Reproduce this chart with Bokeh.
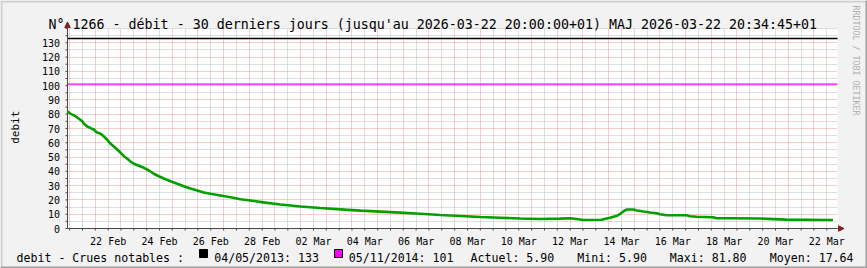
import math
import pandas as pd
from bokeh.plotting import figure
from bokeh.models import (Range1d, FixedTicker, Grid, Label, Arrow, NormalHead,
                          BoxAnnotation)
from bokeh.core.properties import value
from bokeh.embed import file_html
from bokeh.resources import INLINE

# ---------------- data ----------------
times = [
    "2026-02-20 22:00", "2026-02-21 01:00", "2026-02-21 05:30", "2026-02-21 08:40",
    "2026-02-21 11:50", "2026-02-21 13:20", "2026-02-21 16:30", "2026-02-21 19:40",
    "2026-02-21 22:40", "2026-02-22 01:10", "2026-02-22 05:00", "2026-02-22 08:00",
    "2026-02-22 11:10", "2026-02-22 14:20", "2026-02-22 17:20", "2026-02-22 20:30",
    "2026-02-22 23:40", "2026-02-23 02:45", "2026-02-23 05:55", "2026-02-23 09:00",
    "2026-02-23 12:00", "2026-02-23 16:45", "2026-02-23 21:25", "2026-02-24 02:05",
    "2026-02-24 06:45", "2026-02-24 11:25", "2026-02-24 16:05", "2026-02-24 22:20",
    "2026-02-25 04:35", "2026-02-25 10:45", "2026-02-25 17:00", "2026-02-25 23:20",
    "2026-02-26 05:30", "2026-02-26 11:45", "2026-02-26 21:05", "2026-02-27 06:25",
    "2026-02-27 15:45", "2026-02-28 01:05", "2026-02-28 13:10", "2026-03-01 05:00",
    "2026-03-01 23:45", "2026-03-02 18:30", "2026-03-03 13:10", "2026-03-04 08:00",
    "2026-03-05 02:40", "2026-03-05 21:10", "2026-03-06 15:50", "2026-03-07 10:35",
    "2026-03-08 05:20", "2026-03-09 00:00", "2026-03-09 18:40", "2026-03-10 13:25",
    "2026-03-11 08:00", "2026-03-12 02:40", "2026-03-12 12:00", "2026-03-12 21:20",
    "2026-03-13 00:30", "2026-03-13 17:45", "2026-03-13 19:10", "2026-03-14 01:25",
    "2026-03-14 07:40", "2026-03-14 10:50", "2026-03-14 13:55", "2026-03-14 17:05",
    "2026-03-14 23:15", "2026-03-15 02:25", "2026-03-15 08:35", "2026-03-15 14:50",
    "2026-03-15 21:00", "2026-03-16 00:05", "2026-03-16 06:20", "2026-03-17 01:00",
    "2026-03-17 04:05", "2026-03-17 10:20", "2026-03-18 01:35", "2026-03-18 05:00",
    "2026-03-18 17:30", "2026-03-19 21:35", "2026-03-20 21:50", "2026-03-22 15:00",
    "2026-03-22 17:45",
]
debit = [
    81.8, 80.3, 78.6, 76.8,
    75.1, 73.3, 71.4, 70.2,
    69.3, 67.4, 66.3, 64.4,
    62.1, 59.3, 57.4, 55.3,
    53.0, 50.6, 48.8, 46.9,
    45.3, 43.9, 42.5, 40.6,
    38.3, 36.6, 35.0, 33.1,
    31.3, 29.6, 28.0, 26.6,
    25.2, 24.3, 23.1, 21.9,
    20.5, 19.6, 18.3, 16.8,
    15.4, 14.3, 13.4, 12.5,
    11.8, 11.1, 10.3, 9.4,
    8.7, 8.0, 7.5, 7.0,
    6.6, 6.9, 7.2, 6.3,
    5.9, 6.1, 6.5, 7.5,
    8.9, 10.3, 12.1, 13.3,
    13.3, 12.6, 11.9, 11.2,
    10.7, 10.0, 9.3, 9.3,
    8.6, 8.2, 7.9, 7.2,
    7.2, 7.0, 6.2, 5.9,
    5.9,
]
crue_dates = ["04/05/2013", "05/11/2014"]
crue_values = [133, 101]
crue_colors = ["#000000", "#ff00ff"]
actuel, mini, maxi, moyen = 5.90, 5.90, 81.80, 17.64

title_text = ("N\u00b0 1266 - d\u00e9bit - 30 derniers jours (jusqu'au 2026-03-22 20:00:00+01) "
              "MAJ 2026-03-22 20:34:45+01")
y_label = "debit"
y_ticks = list(range(0, 131, 10))
y_minor = list(range(5, 136, 10)) + [140]
window_start = "2026-02-20 22:00"
window_end = "2026-03-22 22:00"
y_max = 140

# ---------------- geometry helpers (canvas pixels -> data) ----------------
W, H = 867, 268
FL, FR, FT, FB = 67, 837, 28, 228      # plot area in canvas px


def ms(s):
    return pd.Timestamp(s).value // 10**6


x0, x1 = ms(window_start), ms(window_end)
mpp = (x1 - x0) / (FR - FL)            # ms per px
upp = y_max / (FB - FT)                # value units per px


def xd(X):
    return x0 + (X - FL) * mpp


def yd(Y):
    return (FB - Y) * upp


x_ms = [ms(t) for t in times]
label_dt = pd.date_range("2026-02-22 12:00", "2026-03-22 12:00", freq="2D")
label_ticks = [ms(t) for t in label_dt]
label_text = [t.strftime("%d %b") for t in label_dt]
midnights = [ms(t) for t in pd.date_range("2026-02-21 00:00", "2026-03-22 00:00", freq="D")]
noons = [ms(t) for t in pd.date_range("2026-02-21 12:00", "2026-03-22 12:00", freq="D")]

MONO = "DejaVu Sans Mono"

p = figure(width=W, height=H, output_backend="svg", toolbar_location=None,
           x_axis_type=None, y_axis_type=None,
           x_range=Range1d(xd(0), xd(W)), y_range=Range1d(yd(H), yd(0)),
           min_border=0, min_border_left=0, min_border_right=0,
           min_border_top=0, min_border_bottom=0, title=None)
p.background_fill_color = "#f2f2f2"
p.border_fill_color = "#f2f2f2"
p.outline_line_color = None

# white canvas of the plot area
p.add_layout(BoxAnnotation(left=x0, right=x1, bottom=0, top=y_max, fill_color="white",
                           fill_alpha=1, line_color=None, level="underlay"))

# grids (dotted), limited to the plot area
MIN_COL = "#bcbcbc"
MAJ_COL = "#ec9a9a"
has_cross = "cross_bounds" in Grid.properties()
for ticks, col, dim in ((noons, MIN_COL, 0), (y_minor, MIN_COL, 1),
                        (midnights, MAJ_COL, 0), (y_ticks[1:], MAJ_COL, 1)):
    if has_cross:
        cb = (0, y_max) if dim == 0 else (x0, x1)
        p.add_layout(Grid(dimension=dim, ticker=FixedTicker(ticks=ticks), cross_bounds=cb,
                          grid_line_color=col, grid_line_dash="1 1", grid_line_width=1,
                          level="underlay"))
    elif dim == 0:
        p.segment(x0=ticks, x1=ticks, y0=[0] * len(ticks), y1=[y_max] * len(ticks),
                  line_color=col, line_dash="1 1", line_width=1, level="underlay")
    else:
        p.segment(x0=[x0] * len(ticks), x1=[x1] * len(ticks), y0=ticks, y1=ticks,
                  line_color=col, line_dash="1 1", line_width=1, level="underlay")

# threshold lines (crues notables)
p.segment(x0=[x0, x0], x1=[x1, x1], y0=crue_values, y1=crue_values,
          line_color=crue_colors, line_width=[1.5, 1.2])

# data
p.line(x=x_ms, y=debit, line_color="#00a000", line_width=2.6)

# axes
AX = "#4a4a4a"
p.segment(x0=[x0, x0], y0=[0, 0], x1=[x1, x0], y1=[0, y_max], line_color=AX, line_width=1)
p.ray(x=[x0] * (len(y_ticks) + len(y_minor)), y=y_ticks + y_minor, length=2,
      length_units="screen", angle=math.pi, line_color=AX, line_width=1)
p.ray(x=midnights + noons, y=[0] * (len(midnights) + len(noons)), length=2,
      length_units="screen", angle=-math.pi / 2, line_color=AX, line_width=1)
p.text(x=[x0] * len(y_ticks), y=y_ticks, text=[str(v) for v in y_ticks], x_offset=-7.5,
       text_align="right", text_baseline="middle", text_font=value(MONO),
       text_font_size="10px", text_color="#000000")
p.text(x=label_ticks, y=[0] * len(label_ticks), text=label_text, y_offset=12.7,
       text_align="center", text_baseline="alphabetic", text_font=value(MONO),
       text_font_size="10px", text_color="#000000")

ARROW = "#801f1f"
p.add_layout(Arrow(x_start=x0, y_start=y_max, x_end=x0, y_end=yd(21.5),
                   line_color=AX, line_width=1,
                   end=NormalHead(size=5.5, fill_color=ARROW, line_color=ARROW)))
p.add_layout(Arrow(x_start=x1, y_start=0, x_end=xd(843.5), y_end=0,
                   line_color=AX, line_width=1,
                   end=NormalHead(size=5.5, fill_color=ARROW, line_color=ARROW)))


def lab(X, Y, text, **kw):
    p.add_layout(Label(x=X, y=H - Y, x_units="screen", y_units="screen", text=text,
                       text_font=MONO, **kw))


# texts
lab(432.3, 24, title_text, text_font_size="13.3px", text_align="center",
    text_baseline="alphabetic", text_color="#000000")
lab(15, 126.7, y_label, angle=math.pi / 2, text_font_size="11px", text_align="center",
    text_baseline="alphabetic", text_color="#000000")
lab(855, 60, "RRDTOOL / TOBI OETIKER", angle=-math.pi / 2, text_font_size="8.3px",
    text_align="center", text_baseline="alphabetic", text_color="#b0b0b0")

LEG_Y = 257.3
legend_items = [
    (16, "debit - Crues notables :"),
    (213.7, "%s: %d" % (crue_dates[0], crue_values[0])),
    (348.3, "%s: %d" % (crue_dates[1], crue_values[1])),
    (470, "Actuel: %.2f" % actuel),
    (576.7, "Mini: %.2f" % mini),
    (669.3, "Maxi: %.2f" % maxi),
    (769.3, "Moyen: %.2f" % moyen),
]
for X, txt in legend_items:
    lab(X, LEG_Y, txt, text_font_size="11.6px", text_align="left",
        text_baseline="alphabetic", text_color="#000000")


def box(l, r, t, b, col, line=None):
    p.add_layout(BoxAnnotation(left=l, right=r, top=H - t, bottom=H - b,
                               left_units="screen", right_units="screen",
                               top_units="screen", bottom_units="screen",
                               fill_color=col, fill_alpha=1, line_color=line,
                               line_width=1, line_alpha=1))


for X, col in ((199, crue_colors[0]), (334, crue_colors[1])):
    box(X, X + 8, 249, 257, col, "#000000")

# canvas border shades (rrdtool style)
box(0, W, 0, 2, "#cfcfcf")
box(0, 2, 0, H, "#cfcfcf")
box(0, W, H - 2, H, "#9e9e9e")
box(W - 2, W, 0, H, "#9e9e9e")

open("out.html", "w").write(file_html(p, INLINE))
